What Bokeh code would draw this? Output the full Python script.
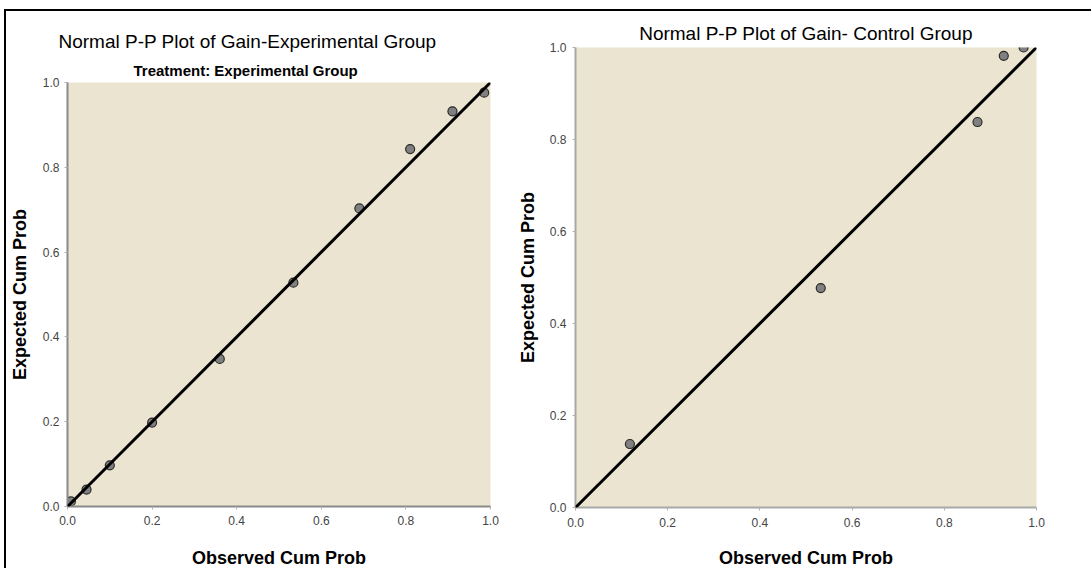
from bokeh.plotting import figure
from bokeh.models import Range1d, FixedTicker, Slope, Title, NumeralTickFormatter
from bokeh.embed import file_html
from bokeh.resources import INLINE

# ---- data ----
exp_observed = [0.008, 0.045, 0.100, 0.200, 0.360, 0.534, 0.690, 0.810, 0.910, 0.985]
exp_expected = [0.012, 0.040, 0.097, 0.198, 0.348, 0.528, 0.703, 0.843, 0.932, 0.976]
ctl_observed = [0.118, 0.532, 0.872, 0.929, 0.972]
ctl_expected = [0.138, 0.477, 0.838, 0.982, 1.000]
tick_values = [0.0, 0.2, 0.4, 0.6, 0.8, 1.0]

title_left = "Normal P-P Plot of Gain-Experimental Group"
subtitle_left = "Treatment: Experimental Group"
title_right = "Normal P-P Plot of Gain- Control Group"
xlab = "Observed Cum Prob"
ylab = "Expected Cum Prob"

FONT = "Liberation Sans"
BG = "#EAE4D0"


def make_panel(width, height, mb_left, mb_right, mb_top, mb_bottom, xs, ys,
               axis_color, tick_standoff_x, tick_standoff_y, xlab_standoff, ylab_standoff,
               styles):
    p = figure(width=width, height=height, output_backend="svg", toolbar_location=None,
               x_range=Range1d(0, 1), y_range=Range1d(0, 1),
               min_border_left=mb_left, min_border_right=mb_right,
               min_border_top=mb_top, min_border_bottom=mb_bottom,
               styles=styles)
    p.background_fill_color = BG
    p.border_fill_color = "white"
    p.outline_line_color = None
    p.grid.visible = False
    for ax in (p.xaxis[0], p.yaxis[0]):
        ax.ticker = FixedTicker(ticks=tick_values)
        ax.formatter = NumeralTickFormatter(format="0.0")
        ax.axis_line_color = axis_color
        ax.axis_line_width = 2
        ax.major_tick_in = 0
        ax.major_tick_out = 3
        ax.major_tick_line_color = "#b0b0b0"
        ax.minor_tick_line_color = None
        ax.major_label_text_font = FONT
        ax.major_label_text_font_size = "12px"
        ax.major_label_text_color = "#444444"
        ax.axis_label_text_font = FONT
        ax.axis_label_text_font_size = "18px"
        ax.axis_label_text_font_style = "bold"
        ax.axis_label_text_color = "black"
    p.xaxis[0].major_label_standoff = tick_standoff_x
    p.yaxis[0].major_label_standoff = tick_standoff_y
    p.xaxis[0].axis_label = xlab
    p.yaxis[0].axis_label = ylab
    p.xaxis[0].axis_label_standoff = xlab_standoff
    p.yaxis[0].axis_label_standoff = ylab_standoff
    p.add_layout(Slope(gradient=1, y_intercept=0, line_color="black", line_width=3))
    p.scatter(xs, ys, size=9, fill_color="#808080", line_color="#2a2a2a", line_width=1.2)
    return p


# left panel (carries the outer frame's top and left lines)
p1 = make_panel(504, 559, 59, 20, 71, 63, exp_observed, exp_expected, "#8a8a8a",
                6, 5, 20, 10,
                styles={"position": "absolute", "left": "4px", "top": "9px",
                        "border-top": "2px solid black", "border-left": "2px solid black"})
p1.title.text = title_left
p1.title.text_font = FONT
p1.title.text_font_size = "19px"
p1.title.text_font_style = "normal"
p1.title.text_color = "black"
p1.title.align = "left"
p1.title.offset = -9
p1.title.standoff = 10
p1.add_layout(Title(text=subtitle_left, text_font=FONT, text_font_size="15px",
                    text_font_style="bold", text_color="black", align="left",
                    offset=66, standoff=7), "above")

# right panel (carries the outer frame's top line)
p2 = make_panel(583, 559, 67, 55, 36, 61, ctl_observed, ctl_expected, "#a8a8a8",
                7, 6, 18, 9,
                styles={"position": "absolute", "left": "508px", "top": "9px",
                        "border-top": "2px solid black"})
p2.title.text = title_right
p2.title.text_font = FONT
p2.title.text_font_size = "19px"
p2.title.text_font_style = "normal"
p2.title.text_color = "black"
p2.title.align = "center"
p2.title.standoff = 8

open("out.html", "w").write(file_html([p1, p2], INLINE))
